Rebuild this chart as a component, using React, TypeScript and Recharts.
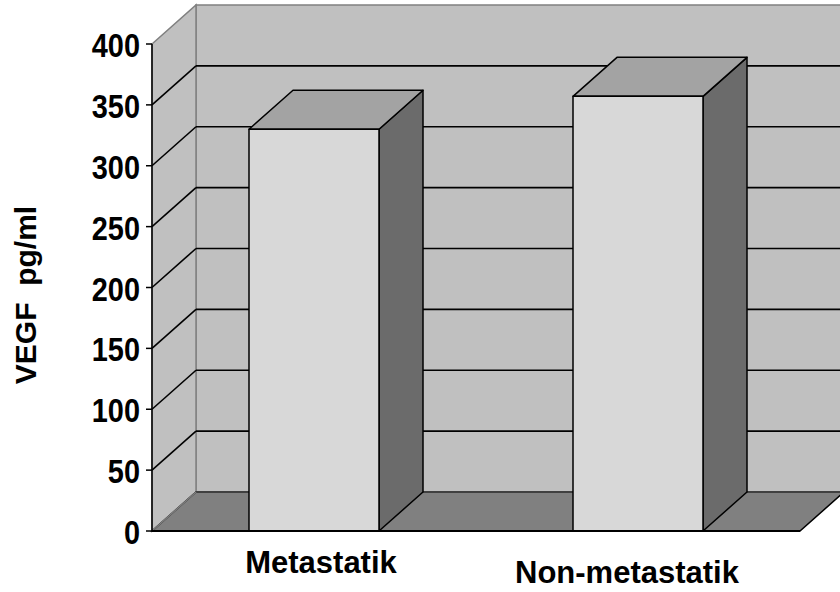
import { BarChart, Bar, XAxis, YAxis, CartesianGrid } from 'recharts';

const categories = ['Metastatik', 'Non-metastatik'];
const vegfValues = [330, 357];
const yTicks = [0, 50, 100, 150, 200, 250, 300, 350, 400];

const data = categories.map((name, i) => ({ name, vegf: vegfValues[i] }));

// depth offset of the 3-D box
const DX = 44;
const DY = 39;

const FONT = 'Arial, "Liberation Sans", sans-serif';

const colors = {
  wall: '#c0c0c0',
  wallEdge: '#808080',
  floor: '#808080',
  front: '#d8d8d8',
  top: '#a3a3a3',
  side: '#6b6b6b',
};

// category labels sit slightly staggered below the floor
const LABEL_SHIFT = [
  { dx: 7, dy: 42 },
  { dx: -11, dy: 52 },
];

const pts = (list: number[][]) => list.map(p => p.join(',')).join(' ');

function Walls({ x, y, width, height }: any) {
  const b = y + height;
  const r = x + width;
  return (
    <g>
      <rect x={x + DX} y={y - DY} width={width} height={height} fill={colors.wall} stroke={colors.wallEdge} strokeWidth={1.5} />
      <polygon
        points={pts([[x, y], [x + DX, y - DY], [x + DX, b - DY], [x, b]])}
        fill={colors.wall}
        stroke={colors.wallEdge}
        strokeWidth={1.5}
      />
      <polygon
        points={pts([[x, b], [x + DX, b - DY], [r + DX, b - DY], [r, b]])}
        fill={colors.floor}
        stroke="#000"
        strokeWidth={1.5}
      />
      <line x1={x + DX} y1={b - DY} x2={r + DX} y2={b - DY} stroke="#404040" strokeWidth={2} />
      <line x1={x} y1={b} x2={x + DX} y2={b - DY} stroke={colors.wallEdge} strokeWidth={1.5} />
    </g>
  );
}

// each horizontal grid line runs along the side wall and then across the back wall
function GridLine(props: any) {
  const { x, y, width, height, y1, index } = props;
  const onEdge = Math.abs(y1 - y) < 0.5 || Math.abs(y1 - (y + height)) < 0.5;
  return (
    <g key={`grid-${index}`}>
      {index === 0 && <Walls x={x} y={y} width={width} height={height} />}
      {!onEdge && (
        <g stroke="#000" strokeWidth={1.6}>
          <line x1={x} y1={y1} x2={x + DX} y2={y1 - DY} />
          <line x1={x + DX} y1={y1 - DY} x2={x + width + DX} y2={y1 - DY} />
        </g>
      )}
    </g>
  );
}

function Box3D(props: any) {
  const { x, y, width, height } = props;
  const r = x + width;
  const b = y + height;
  return (
    <g stroke="#000" strokeWidth={1.5} strokeLinejoin="round">
      <polygon points={pts([[r, y], [r + DX, y - DY], [r + DX, b - DY], [r, b]])} fill={colors.side} />
      <polygon points={pts([[x, y], [x + DX, y - DY], [r + DX, y - DY], [r, y]])} fill={colors.top} />
      <rect x={x} y={y} width={width} height={height} fill={colors.front} />
    </g>
  );
}

function ValueTick({ x, y, payload }: any) {
  return (
    <text
      transform={`translate(${x - 4},${y + 13}) scale(0.85,1)`}
      textAnchor="end"
      fontFamily={FONT}
      fontWeight="bold"
      fontSize={34}
      fill="#000"
    >
      {payload.value}
    </text>
  );
}

function CategoryTick({ x, y, payload, index }: any) {
  const s = LABEL_SHIFT[index] ?? { dx: 0, dy: 42 };
  return (
    <text x={x + s.dx} y={y + s.dy} textAnchor="middle" fontFamily={FONT} fontWeight="bold" fontSize={31} fill="#000">
      {payload.value}
    </text>
  );
}

function AxisTitle() {
  return (
    <text
      x={36}
      y={295}
      transform="rotate(-90 36 295)"
      textAnchor="middle"
      fontFamily={FONT}
      fontWeight="bold"
      fontSize={30}
      fill="#000"
      style={{ whiteSpace: 'pre' }}
    >
      {'VEGF  pg/ml'}
    </text>
  );
}

export default function App() {
  return (
    <div style={{ position: 'absolute', left: 0, top: 0, background: '#fff' }}>
      <BarChart
        width={840}
        height={592}
        data={data}
        margin={{ top: 44, right: 40, left: 0, bottom: 11 }}
        barSize={130}
      >
        <CartesianGrid vertical={false} horizontal={GridLine} />
        <XAxis
          dataKey="name"
          height={50}
          tickLine={false}
          tickSize={0}
          tickMargin={0}
          axisLine={{ stroke: '#000', strokeWidth: 2 }}
          tick={CategoryTick}
          interval={0}
        />
        <YAxis
          width={152}
          domain={[0, 400]}
          ticks={yTicks}
          interval={0}
          tickSize={6}
          tickMargin={2}
          axisLine={{ stroke: '#000', strokeWidth: 1.5 }}
          tickLine={{ stroke: '#000', strokeWidth: 1.5 }}
          tick={ValueTick}
          label={{ content: AxisTitle }}
        />
        <Bar dataKey="vegf" shape={Box3D} isAnimationActive={false} />
      </BarChart>
    </div>
  );
}
